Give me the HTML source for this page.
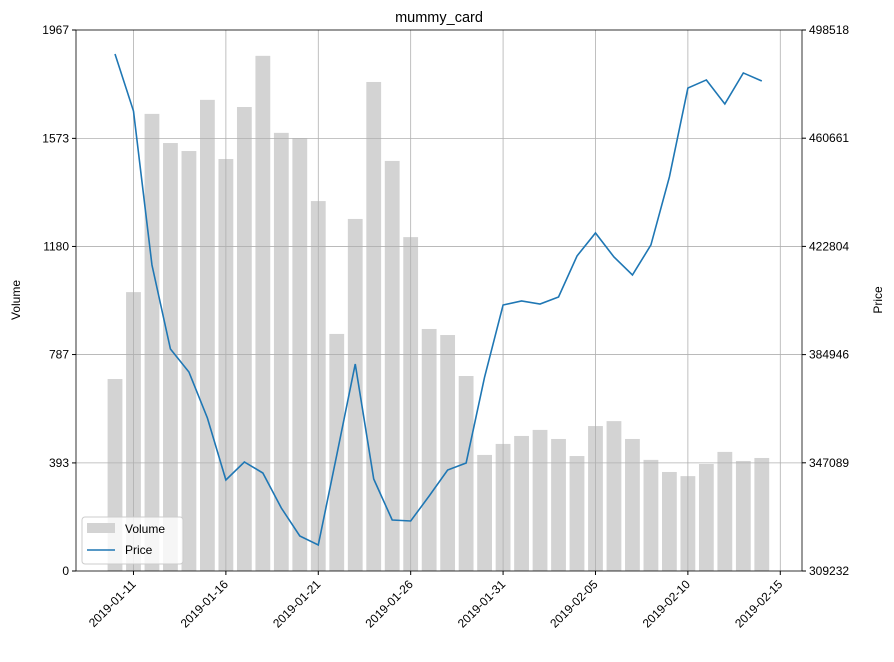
<!DOCTYPE html>
<html><head><meta charset="utf-8"><style>
body{margin:0;background:#fff;}
svg{font-family:"Liberation Sans","DejaVu Sans",sans-serif;}
</style></head><body>
<svg id="c" width="894" height="657"></svg>
<script>
const dates=["01-10","01-11","01-12","01-13","01-14","01-15","01-16","01-17","01-18","01-19","01-20","01-21","01-22","01-23","01-24","01-25","01-26","01-27","01-28","01-29","01-30","01-31","02-01","02-02","02-03","02-04","02-05","02-06","02-07","02-08","02-09","02-10","02-11","02-12","02-13","02-14"];
const volumes=[698,1014,1662,1556,1527,1713,1498,1687,1873,1593,1574,1345,862,1280,1778,1491,1214,880,858,709,422,462,491,513,480,418,527,545,480,404,360,345,389,433,400,411];
const prices=[490130,470180,416300,386900,378860,362760,341070,347370,343520,331270,321480,318330,349820,381660,341420,327080,326730,335470,344570,347020,377110,402300,403700,402650,405100,419450,427500,419100,412800,423300,447100,478200,481040,472640,483490,480690];
const volTicks=[0,393,787,1180,1573,1967];
const priceTicks=[309232,347089,384946,422804,460661,498518];
const xTickLabels=["2019-01-11","2019-01-16","2019-01-21","2019-01-26","2019-01-31","2019-02-05","2019-02-10","2019-02-15"];
const xTickIdx=[1,6,11,16,21,26,31,36];

const L=76,R=802,T=30,B=571;
const xs=i=>115+i*18.48;
const yv=v=>B-(v-0)/(1967-0)*(B-T);
const yp=p=>B-(p-309232)/(498518-309232)*(B-T);
const NS="http://www.w3.org/2000/svg";
const svg=document.getElementById('c');
function mk(t,a,txt){const e=document.createElementNS(NS,t);for(const k in a)e.setAttribute(k,a[k]);if(txt!==undefined)e.textContent=txt;svg.appendChild(e);return e;}

// bars
volumes.forEach((v,i)=>{
 const e=mk('rect',{x:xs(i)-7.4,y:yv(v),width:14.8,height:B-yv(v),fill:'#d3d3d3'});
 
 
});
// grid
volTicks.forEach((t,i)=>{
 const y=yv(t);
 if(i>0&&i<volTicks.length-1){const g=mk('line',{x1:L,x2:R,y1:y,y2:y,stroke:'#b0b0b0','stroke-width':0.8});}
 mk('line',{x1:L-4,x2:L,y1:y,y2:y,stroke:'#000'});
 const tl=mk('text',{x:L-7,y:y+4,'text-anchor':'end','font-size':12},t);
 
});
priceTicks.forEach(t=>{
 const y=yp(t);
 mk('line',{x1:R,x2:R+4,y1:y,y2:y,stroke:'#000'});
 const tl=mk('text',{x:R+7,y:y+4,'font-size':12},t);
 
});
xTickIdx.forEach((d,i)=>{
 const x=xs(d);
 const g=mk('line',{x1:x,x2:x,y1:T,y2:B,stroke:'#b0b0b0','stroke-width':0.8});
 
 mk('line',{x1:x,x2:x,y1:B,y2:B+4,stroke:'#000'});
 const tl=mk('text',{x:x+3,y:B+14,'text-anchor':'end','font-size':12,transform:`rotate(-45 ${x+3} ${B+14})`},xTickLabels[i]);
 
});
// price line
const pl=mk('polyline',{points:prices.map((p,i)=>xs(i)+','+yp(p)).join(' '),fill:'none',stroke:'#1f77b4','stroke-width':1.6});

// frame
const fr=mk('rect',{x:L,y:T,width:R-L,height:B-T,fill:'none',stroke:'#000','stroke-width':0.8});

// titles
const ti=mk('text',{x:439,y:22,'text-anchor':'middle','font-size':14.5},'mummy_card');

const yl=mk('text',{x:20,y:300,'text-anchor':'middle','font-size':12,transform:'rotate(-90 20 300)'},'Volume');

const yr=mk('text',{x:882,y:300,'text-anchor':'middle','font-size':12,transform:'rotate(-90 882 300)'},'Price');

// legend
const lg=mk('rect',{x:82,y:517,width:101,height:47,fill:'#fff','fill-opacity':0.8,stroke:'#ccc',rx:3});

mk('rect',{x:87,y:523,width:28,height:10,fill:'#d3d3d3'});
const l1=mk('text',{x:125,y:533,'font-size':12},'Volume');

mk('line',{x1:87,x2:115,y1:550,y2:550,stroke:'#1f77b4','stroke-width':1.6});
const l2=mk('text',{x:125,y:554,'font-size':12},'Price');

</script>
</body></html>
